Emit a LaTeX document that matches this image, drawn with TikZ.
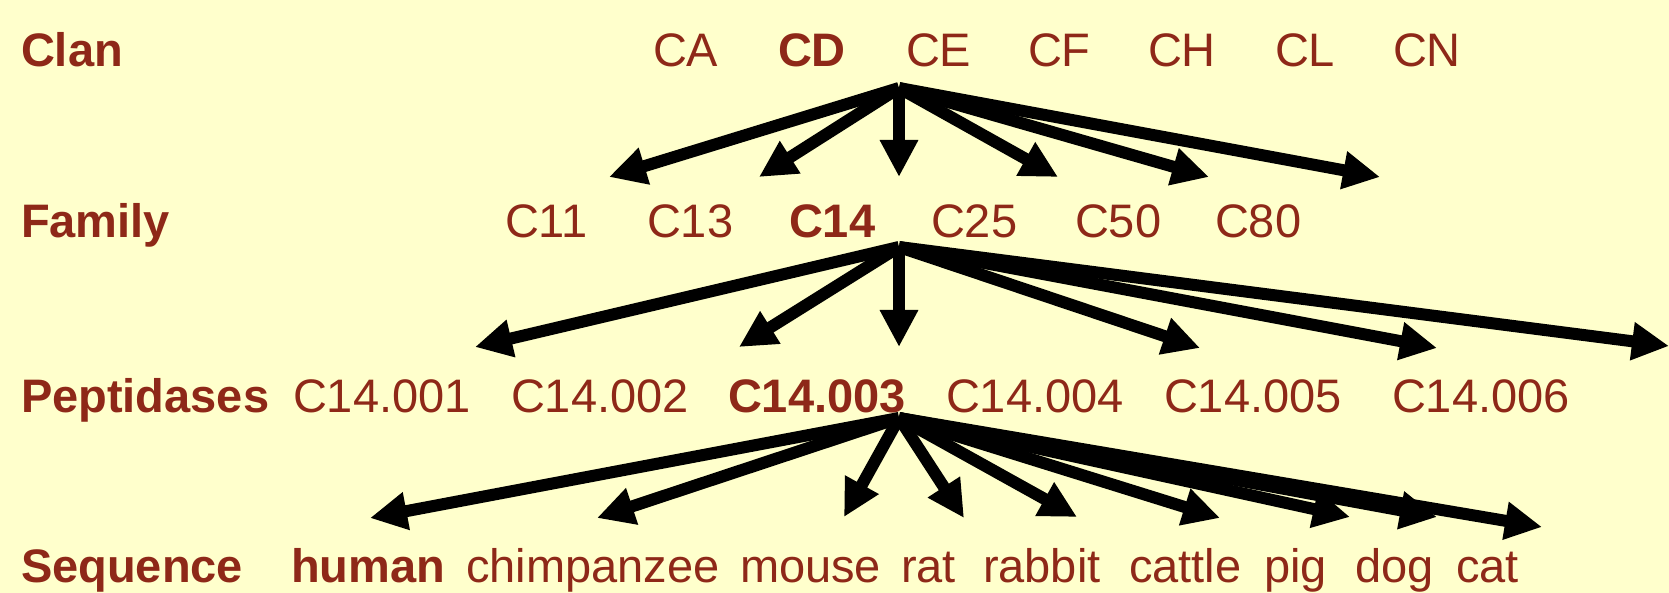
\documentclass[tikz,border=0pt]{standalone}
\usepackage{fontspec}
\setmainfont{Liberation Sans}
\usetikzlibrary{arrows.meta}
\definecolor{bg}{RGB}{255,255,204}
\definecolor{txt}{RGB}{142,40,24}
\tikzset{
  lbl/.style={anchor=base west, inner sep=0pt, outer sep=0pt, text=txt, font=\fontsize{47}{56}\selectfont},
  hd/.style={lbl, font=\fontsize{47}{56}\selectfont\bfseries},
  arr/.style={line width=12pt, -{Triangle[length=37pt,width=36pt]}, black}
}
\begin{document}
\begin{tikzpicture}[x=1pt,y=-1pt]
\fill[bg] (0,0) rectangle (1669,593);
\useasboundingbox (0,0) rectangle (1669,593);
% row labels
\node[hd] (clan) at (21,67) {Clan};
\node[hd] (family) at (21,238) {Family};
\node[hd] (pept) at (21,412) {Peptidases};
\node[hd] (seq) at (21,582) {Sequence};
% clans
\node[lbl] (ca) at (653,67) {CA};
\node[hd] (cd) at (778,67) {CD};
\node[lbl] (ce) at (906,67) {CE};
\node[lbl] (cf) at (1028,67) {CF};
\node[lbl] (ch) at (1148,67) {CH};
\node[lbl] (cl) at (1275,67) {CL};
\node[lbl] (cn) at (1393,67) {CN};
% families
\node[lbl] (c11) at (505,238) {C11};
\node[lbl] (c13) at (647,238) {C13};
\node[hd] (c14) at (789,238) {C14};
\node[lbl] (c25) at (931,238) {C25};
\node[lbl] (c50) at (1075,238) {C50};
\node[lbl] (c80) at (1215,238) {C80};
% peptidases
\node[lbl] (p1) at (293,412) {C14.001};
\node[lbl] (p2) at (511,412) {C14.002};
\node[hd] (p3) at (728,412) {C14.003};
\node[lbl] (p4) at (946,412) {C14.004};
\node[lbl] (p5) at (1164,412) {C14.005};
\node[lbl] (p6) at (1392,412) {C14.006};
% sequences
\node[hd] (human) at (291,582) {human};
\node[lbl] (chimp) at (466,582) {chimpanzee};
\node[lbl] (mouse) at (740,582) {mouse};
\node[lbl] (rat) at (901,582) {rat};
\node[lbl] (rabbit) at (983,582) {rabbit};
\node[lbl] (cattle) at (1129,582) {cattle};
\node[lbl] (pig) at (1264,582) {pig};
\node[lbl] (dog) at (1355,582) {dog};
\node[lbl] (cat) at (1456,582) {cat};
% arrow origins and tips
\coordinate (o1) at (899,88);
\coordinate (o2) at (899,247);
\coordinate (o3) at (899,418);
\coordinate (a1) at (609,177);
\coordinate (a2) at (759,177);
\coordinate (a3) at (899,177);
\coordinate (a4) at (1058,177);
\coordinate (a5) at (1209,177);
\coordinate (a6) at (1380,177);
\coordinate (b1) at (475,347);
\coordinate (b2) at (739,347);
\coordinate (b3) at (899,347);
\coordinate (b4) at (1200,348);
\coordinate (b5) at (1437,348);
\coordinate (b6) at (1669,346);
\coordinate (s1) at (370,518);
\coordinate (s2) at (597,518);
\coordinate (s3) at (844,517);
\coordinate (s4) at (964,518);
\coordinate (s5) at (1077,517);
\coordinate (s6) at (1220,518);
\coordinate (s7) at (1350,517);
\coordinate (s8) at (1437,517);
\coordinate (s9) at (1542,527);
\foreach \t in {a1,a2,a3,a4,a5,a6} \draw[arr] (o1) -- (\t);
\foreach \t in {b1,b2,b3,b4,b5,b6} \draw[arr] (o2) -- (\t);
\foreach \t in {s1,s2,s3,s4,s5,s6,s7,s8,s9} \draw[arr] (o3) -- (\t);
\end{tikzpicture}
\end{document}
